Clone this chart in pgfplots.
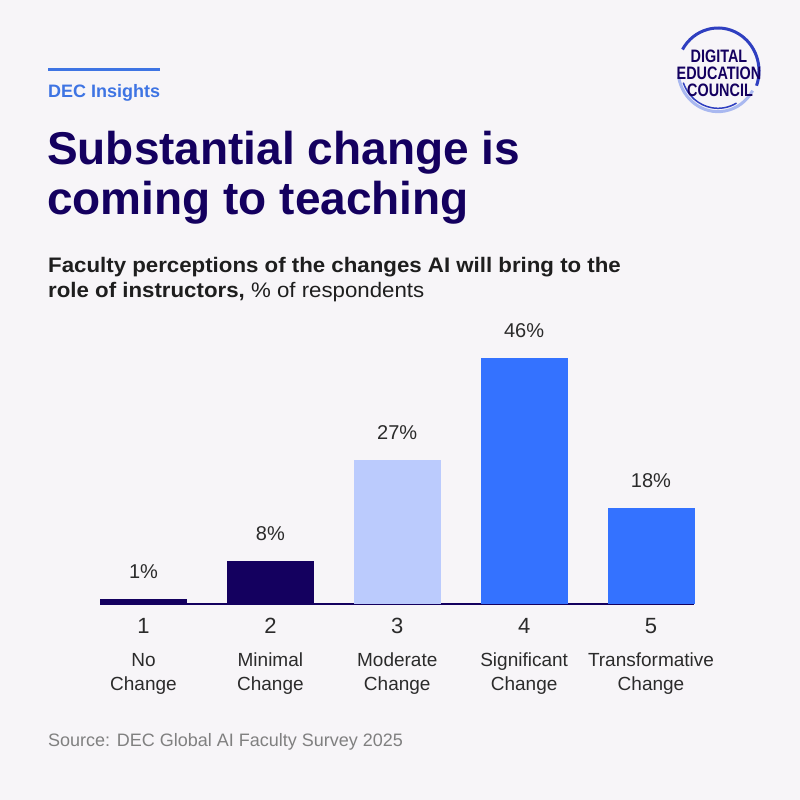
\documentclass[border=0pt]{standalone}
\usepackage{fontspec}
\setmainfont{Liberation Sans}
\usepackage{pgfplots}
\pgfplotsset{compat=1.18}
\definecolor{bg}{HTML}{F7F5F8}
\definecolor{navy}{HTML}{14005F}
\definecolor{lightbar}{HTML}{BBCBFD}
\definecolor{bluebar}{HTML}{3472FF}
\definecolor{decblue}{HTML}{3E74E3}
\definecolor{subtxt}{HTML}{1E1E1E}
\definecolor{srcgrey}{HTML}{808080}
\definecolor{lbltxt}{HTML}{2B2B2B}
\definecolor{ringblue}{HTML}{2F3FC0}
\definecolor{ringlight}{HTML}{A9B8F0}
\begin{document}
\begin{tikzpicture}
\fill[bg] (0pt,0pt) rectangle (800pt,800pt);
% header
\draw[decblue, line width=3pt] (48pt,730pt) -- (160pt,730pt);
\node[anchor=base west, inner sep=0, text=decblue, font=\fontsize{18}{18}\selectfont\bfseries] at (48pt,702pt) {DEC Insights};
\node[anchor=base west, inner sep=0, text=navy, font=\fontsize{46}{50}\selectfont\bfseries] at (47pt,635pt) {Substantial change is};
\node[anchor=base west, inner sep=0, text=navy, font=\fontsize{46}{50}\selectfont\bfseries] at (47pt,585pt) {coming to teaching};
\node[anchor=base west, inner sep=0, xscale=1.06, text=subtxt, font=\fontsize{21}{25}\selectfont] at (48pt,527pt) {\textbf{Faculty perceptions of the changes AI will bring to the}};
\node[anchor=base west, inner sep=0, xscale=1.06, text=subtxt, font=\fontsize{21}{25}\selectfont] at (48pt,502pt) {\textbf{role of instructors,} \% of respondents};
\node[anchor=base west, inner sep=0, text=srcgrey, font=\fontsize{18}{18}\selectfont] at (48pt,53pt) {Source: DEC Global AI Faculty Survey 2025};
% logo
\draw[ringlight, line width=3pt] (718pt,730pt) ++(190:40pt) arc[start angle=190, end angle=330, x radius=40pt, y radius=42pt];
\draw[ringblue, line width=3pt] (718pt,730pt) ++(150:41pt) arc[start angle=150, end angle=-20, x radius=41pt, y radius=43pt];
\draw[ringblue, line width=1.5pt] (718pt,730pt) ++(200:37pt) arc[start angle=200, end angle=300, x radius=37pt, y radius=39pt];
\node[anchor=base, inner sep=0, text=navy, xscale=0.8, font=\fontsize{18}{18}\selectfont\bfseries] at (719pt,737pt) {DIGITAL};
\node[anchor=base, inner sep=0, text=navy, xscale=0.8, font=\fontsize{18}{18}\selectfont\bfseries] at (719pt,720pt) {EDUCATION};
\node[anchor=base, inner sep=0, text=navy, xscale=0.8, font=\fontsize{18}{18}\selectfont\bfseries] at (720pt,703pt) {COUNCIL};
% chart
\begin{axis}[
  at={(100pt,196pt)}, anchor=south west,
  scale only axis, width=594pt, height=267.5pt,
  xmin=0.6572, xmax=5.3389, ymin=0, ymax=50,
  ybar, bar width=87pt,
  axis x line=bottom, hide y axis,
  axis line style={navy, line width=1.5pt, -},
  xtick={1,2,3,4,5},
  xticklabels={{\fontsize{22}{22}\selectfont 1},{\fontsize{22}{22}\selectfont 2},{\fontsize{22}{22}\selectfont 3},{\fontsize{22}{22}\selectfont 4},{\fontsize{22}{22}\selectfont 5}},
  major tick length=0pt,
  xticklabel style={anchor=north, inner sep=0pt, yshift=-14pt, text=lbltxt},
  extra x ticks={1,2,3,4,5},
  extra x tick labels={{No\\Change},{Minimal\\Change},{Moderate\\Change},{Significant\\Change},{Transformative\\Change}},
  extra x tick style={major tick length=0pt, tick label style={anchor=north, align=center, inner sep=0pt, yshift=-35pt, text=lbltxt, font=\fontsize{19}{24}\selectfont}},
  /pgf/number format/assume math mode=true,
  nodes near coords={\pgfmathprintnumber{\pgfplotspointmeta}\%},
  nodes near coords style={anchor=south, inner sep=0pt, yshift=20pt, text=lbltxt, font=\fontsize{20}{20}\selectfont},
  clip=false,
]
\addplot[fill=navy, draw=none, bar shift=0pt] coordinates {(1,1)};
\addplot[fill=navy, draw=none, bar shift=0pt] coordinates {(2,8)};
\addplot[fill=lightbar, draw=none, bar shift=0pt] coordinates {(3,27)};
\addplot[fill=bluebar, draw=none, bar shift=0pt] coordinates {(4,46)};
\addplot[fill=bluebar, draw=none, bar shift=0pt] coordinates {(5,18)};
\end{axis}
\end{tikzpicture}
\end{document}
